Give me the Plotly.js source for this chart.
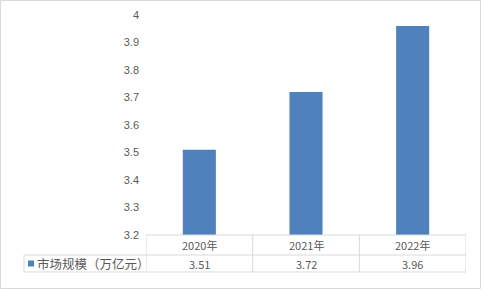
<!DOCTYPE html>
<html>
<head>
<meta charset="utf-8">
<script src="https://cdn.plot.ly/plotly-3.0.1.min.js"></script>
<style>html,body{margin:0;padding:0;background:#fff;}</style>
</head>
<body>
<div id="chart" style="width:482px;height:290px;"></div>
<script>
const categories = ["2020年", "2021年", "2022年"];
const seriesName = "市场规模（万亿元）";
const values = [3.51, 3.72, 3.96];
const valueLabels = ["3.51", "3.72", "3.96"];

const W = 482, H = 290;
const mL = 146, mR = 16, mT = 15, mB = 55;
const pw = W - mL - mR, ph = H - mT - mB;
const px = v => (v - mL) / pw;           // pixel x -> paper
const py = v => (H - mB - v) / ph;       // pixel y -> paper

const gray = "#d9d9d9";
const txt = "#595959";
const font = "'Noto Sans CJK SC', 'Liberation Sans', sans-serif";

const row1Top = py(235), row1Bot = py(255), row2Bot = py(272);
const tableLeft = px(24);

const shapes = [];
// outer border
shapes.push({type: "rect", xref: "paper", yref: "paper", x0: px(0.5), x1: px(480.5), y0: py(288.5), y1: py(0.5), line: {color: gray, width: 1}, fillcolor: "rgba(0,0,0,0)"});
// table horizontal lines
shapes.push({type: "line", xref: "paper", yref: "paper", x0: 0, x1: 1, y0: row1Top, y1: row1Top, line: {color: gray, width: 1}});
shapes.push({type: "line", xref: "paper", yref: "paper", x0: tableLeft, x1: 1, y0: row1Bot, y1: row1Bot, line: {color: gray, width: 1}});
shapes.push({type: "line", xref: "paper", yref: "paper", x0: tableLeft, x1: 1, y0: row2Bot, y1: row2Bot, line: {color: gray, width: 1}});
// vertical lines at category boundaries
for (let i = 0; i <= categories.length; i++) {
  shapes.push({type: "line", xref: "x", yref: "paper", x0: i - 0.5, x1: i - 0.5, y0: row1Top, y1: row2Bot, line: {color: gray, width: 1}});
}
shapes.push({type: "line", xref: "paper", yref: "paper", x0: tableLeft, x1: tableLeft, y0: row1Bot, y1: row2Bot, line: {color: gray, width: 1}});
// legend key
shapes.push({type: "rect", xref: "paper", yref: "paper", x0: px(28), x1: px(34), y0: py(266.5), y1: py(260.5), line: {width: 0}, fillcolor: "#4F81BD"});

const annotations = [];
categories.forEach((c, i) => {
  annotations.push({x: i, xref: "x", y: (row1Top + row1Bot) / 2, yref: "paper", text: c, showarrow: false, xanchor: "center", yanchor: "middle", font: {family: font, size: 11, color: txt}});
  annotations.push({x: i, xref: "x", y: (row1Bot + row2Bot) / 2, yref: "paper", text: valueLabels[i], showarrow: false, xanchor: "center", yanchor: "middle", font: {family: font, size: 11, color: txt}});
});
annotations.push({x: px(35), xref: "paper", y: (row1Bot + row2Bot) / 2, yref: "paper", text: seriesName, showarrow: false, xanchor: "left", yanchor: "middle", font: {family: font, size: 12.5, color: txt}});

const data = [{
  type: "bar",
  x: categories,
  y: values,
  name: seriesName,
  marker: {color: "#4F81BD"},
  width: 0.31,
  hoverinfo: "skip"
}];

const layout = {
  width: W, height: H,
  margin: {l: mL, r: mR, t: mT, b: mB, pad: 0},
  paper_bgcolor: "#fff",
  plot_bgcolor: "#fff",
  showlegend: false,
  xaxis: {
    type: "category",
    range: [-0.5, 2.5],
    showticklabels: false,
    showgrid: false,
    zeroline: false,
    showline: false,
    ticks: ""
  },
  yaxis: {
    range: [3.2, 4.0],
    dtick: 0.1,
    tick0: 3.2,
    showgrid: false,
    zeroline: false,
    showline: false,
    ticks: "",
    ticklabelstandoff: 6,
    tickfont: {family: "'Liberation Sans', sans-serif", size: 11, color: txt}
  },
  shapes: shapes,
  annotations: annotations
};

Plotly.newPlot("chart", data, layout, {staticPlot: true, displayModeBar: false});
</script>
</body>
</html>
